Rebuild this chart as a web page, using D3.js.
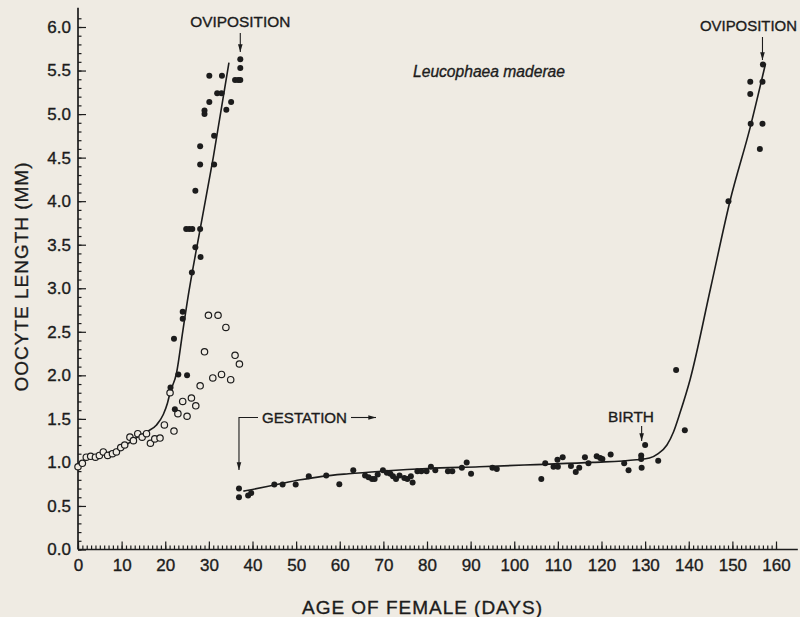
<!DOCTYPE html>
<html><head><meta charset="utf-8">
<script src="https://cdn.jsdelivr.net/npm/d3@7"></script>
<style>
html,body{margin:0;padding:0;background:#efebe3;}
svg{display:block;}
text{font-family:"Liberation Sans",Arial,sans-serif;fill:#1c1c1c;stroke:#1c1c1c;stroke-width:0.35px;}
</style></head>
<body>
<svg id="chart" width="800" height="617"></svg>
<script>
// ---------- data ----------
const xTickValues = [0,10,20,30,40,50,60,70,80,90,100,110,120,130,140,150,160];
const yTickValues = [0,0.5,1,1.5,2,2.5,3,3.5,4,4.5,5,5.5,6];

// first cycle, open circles
const openDays = [0,1,1.9,2.9,4,4.9,5.8,6.8,7.9,8.8,9.8,10.7,11.9,12.7,13.7,14.7,15.7,16.6,17.6,18.8,19.8,21.1,22,22.9,24,25,26,27,28,29,29.9,30.9,32.1,32.9,33.9,35,36,37];
const openLen  = [0.95,0.99,1.06,1.07,1.06,1.08,1.12,1.08,1.10,1.12,1.17,1.20,1.29,1.25,1.33,1.29,1.33,1.22,1.27,1.28,1.43,1.80,1.36,1.56,1.70,1.53,1.74,1.65,1.88,2.27,2.69,1.97,2.69,2.01,2.55,1.95,2.23,2.13];

// first cycle, filled circles
const fill1Days = [21.2,22,22.2,23,24,24,25,26.1,28.1,26.9,24.8,25.5,26.2,28,26.9,28,28,31.2,31.2,29,29,30.1,31.9,32.9,30.1,33,34,35.1,36,36.7,37.2,37.2,37.2];
const fill1Len  = [1.86,2.42,1.61,2.01,2.73,2.65,2.00,3.18,3.36,3.47,3.68,3.68,3.68,3.68,4.12,4.42,4.63,4.42,4.75,5.00,5.04,5.14,5.24,5.24,5.44,5.44,5.05,5.14,5.39,5.39,5.39,5.53,5.63];

// second cycle, filled circles
const fill2Days = [36.9,36.9,39,39.7,45,46.9,49.9,52.9,56.9,59.9,63.1,65.8,66.6,67.4,68,68.7,69.9,70.8,71.6,72.2,72.9,73.7,74.8,75.5,76.3,76.7,77.8,78.7,79.9,80.9,81.9,84.8,85.8,88,89.1,90.1,95,96,
  106.2,107.1,109,110,109.9,111.1,113,114.1,114.9,116.2,117,118.9,119.7,120.2,122.1,125.2,126.2,129.1,129.1,129.2,130,133,137.1,139.1,149.1,154.1,154.1,154.2,156.3,156.9,156.9,157];
const fill2Len  = [0.70,0.60,0.62,0.65,0.745,0.745,0.745,0.84,0.85,0.75,0.91,0.85,0.83,0.81,0.81,0.86,0.91,0.88,0.87,0.84,0.81,0.85,0.82,0.81,0.84,0.77,0.90,0.90,0.90,0.95,0.91,0.90,0.90,0.94,1.00,0.87,0.94,0.925,
  0.81,0.99,0.95,0.95,1.03,1.06,0.96,0.89,0.94,1.06,0.99,1.07,1.05,1.04,1.09,0.99,0.91,1.08,1.04,0.94,1.20,1.02,2.06,1.37,4.00,5.23,5.37,4.89,4.60,4.89,5.37,5.57];

// fitted curves
const curve1Days = [0,2,5,8,11,13,15.7,18,19.55,20.5,21.1,22.6,24,25.06,28,31,34.6];
const curve1Len  = [0.97,1.04,1.09,1.13,1.20,1.27,1.35,1.43,1.55,1.68,1.80,2.03,2.50,2.85,3.68,4.50,5.59];
const curve2Days = [37.9,40,45,51,56,62,70,80,92,105,118,128,131,133,135,136.5,138,140.3,145,149.5,154.1,157.6];
const curve2Len  = [0.67,0.69,0.74,0.80,0.84,0.87,0.90,0.93,0.95,0.975,1.00,1.03,1.05,1.10,1.20,1.35,1.57,1.95,3.00,4.01,4.85,5.58];

// ---------- drawing ----------
const ink = "#1c1c1c";
const svg = d3.select("#chart");
const x = d3.scaleLinear().domain([0,160]).range([78,776]);
const y = d3.scaleLinear().domain([0,6]).range([549.5,27]);

// axis lines
svg.append("line").attr("x1",x(0)).attr("x2",x(165)).attr("y1",y(0)).attr("y2",y(0))
  .attr("stroke",ink).attr("stroke-width",1.7);
svg.append("line").attr("x1",x(0)).attr("x2",x(0)).attr("y1",y(0)).attr("y2",y(6.22))
  .attr("stroke",ink).attr("stroke-width",1.7);

// x minor ticks
const xMinor = d3.range(0,161,1);
const gxm = svg.append("g").attr("transform",`translate(0,${y(0)})`)
  .call(d3.axisBottom(x).tickValues(xMinor).tickSize(-4).tickSizeOuter(0).tickFormat(""));
gxm.select(".domain").remove();
// x major ticks
const gx = svg.append("g").attr("transform",`translate(0,${y(0)})`)
  .call(d3.axisBottom(x).tickValues(xTickValues).tickSize(-8).tickSizeOuter(0).tickPadding(9).tickFormat(d3.format("d")));
gx.select(".domain").remove();
gx.selectAll("text").style("font-size","17px").attr("fill",ink);

// y minor ticks
const yMinor = d3.range(0,62,1).map(d=>d/10);
const gym = svg.append("g").attr("transform",`translate(${x(0)},0)`)
  .call(d3.axisLeft(y).tickValues(yMinor).tickSize(-3.5).tickSizeOuter(0).tickFormat(""));
gym.select(".domain").remove();
const gy = svg.append("g").attr("transform",`translate(${x(0)},0)`)
  .call(d3.axisLeft(y).tickValues(yTickValues).tickSize(-8).tickSizeOuter(0).tickPadding(7).tickFormat(d3.format(".1f")));
gy.select(".domain").remove();
gy.selectAll("text").style("font-size","17px").attr("fill",ink);
svg.selectAll(".tick line").attr("stroke",ink).attr("stroke-width",1.2);

// curves
const line = d3.line().x(d=>x(d[0])).y(d=>y(d[1])).curve(d3.curveMonotoneX);
svg.append("path").datum(curve1Days.map((d,i)=>[d,curve1Len[i]]))
  .attr("d",line).attr("fill","none").attr("stroke",ink).attr("stroke-width",1.6);
svg.append("path").datum(curve2Days.map((d,i)=>[d,curve2Len[i]]))
  .attr("d",line).attr("fill","none").attr("stroke",ink).attr("stroke-width",1.6);

// points
svg.append("g").selectAll("circle").data(openDays.map((d,i)=>[d,openLen[i]])).join("circle")
  .attr("cx",d=>x(d[0])).attr("cy",d=>y(d[1])).attr("r",3.2)
  .attr("fill","#efebe3").attr("stroke",ink).attr("stroke-width",1.2);
svg.append("g").selectAll("circle").data(fill1Days.map((d,i)=>[d,fill1Len[i]])).join("circle")
  .attr("cx",d=>x(d[0])).attr("cy",d=>y(d[1])).attr("r",3).attr("fill",ink);
svg.append("g").selectAll("circle").data(fill2Days.map((d,i)=>[d,fill2Len[i]])).join("circle")
  .attr("cx",d=>x(d[0])).attr("cy",d=>y(d[1])).attr("r",3).attr("fill",ink);

// axis titles
svg.append("text").attr("x",422).attr("y",614).attr("text-anchor","middle")
  .attr("textLength",240).attr("lengthAdjust","spacing")
  .style("font-size","19px").text("AGE OF FEMALE (DAYS)");
svg.append("text").attr("transform","translate(28,277) rotate(-90)").attr("text-anchor","middle")
  .attr("textLength",229).attr("lengthAdjust","spacing")
  .style("font-size","19px").text("OOCYTE LENGTH (MM)");

// species label
svg.append("text").attr("x",413).attr("y",77).attr("textLength",152).attr("lengthAdjust","spacingAndGlyphs")
  .style("font-size","16px").style("font-style","italic").text("Leucophaea maderae");

// annotations
const defs = svg.append("defs");
defs.append("marker").attr("id","ah").attr("viewBox","0 0 10 10").attr("refX",10).attr("refY",5)
  .attr("markerWidth",7).attr("markerHeight",7).attr("orient","auto-start-reverse")
  .append("path").attr("d","M0,2 L10,5 L0,8 Z").attr("fill",ink);

function arrow(x1,y1,x2,y2){
  svg.append("line").attr("x1",x1).attr("y1",y1).attr("x2",x2).attr("y2",y2)
    .attr("stroke",ink).attr("stroke-width",1.1).attr("marker-end","url(#ah)");
}
svg.append("text").attr("x",x(37.2)).attr("y",27).attr("text-anchor","middle")
  .attr("textLength",100).attr("lengthAdjust","spacingAndGlyphs")
  .style("font-size","15px").text("OVIPOSITION");
arrow(x(37.2),33,x(37.2),52);
svg.append("text").attr("x",x(156.9)-14).attr("y",31).attr("text-anchor","middle")
  .attr("textLength",97).attr("lengthAdjust","spacingAndGlyphs")
  .style("font-size","15px").text("OVIPOSITION");
arrow(x(156.9),37,x(156.9),60);
svg.append("text").attr("x",631).attr("y",422).attr("text-anchor","middle")
  .attr("textLength",46).attr("lengthAdjust","spacingAndGlyphs")
  .style("font-size","15px").text("BIRTH");
arrow(x(129.2),426,x(129.2),441);
svg.append("text").attr("x",262).attr("y",422.5)
  .attr("textLength",85).attr("lengthAdjust","spacingAndGlyphs")
  .style("font-size","15px").text("GESTATION");
svg.append("path").attr("d",`M258,417.5 H${x(36.9)} V470`).attr("fill","none")
  .attr("stroke",ink).attr("stroke-width",1.1).attr("marker-end","url(#ah)");
arrow(351,417.5,376,417.5);
</script>
</body></html>
